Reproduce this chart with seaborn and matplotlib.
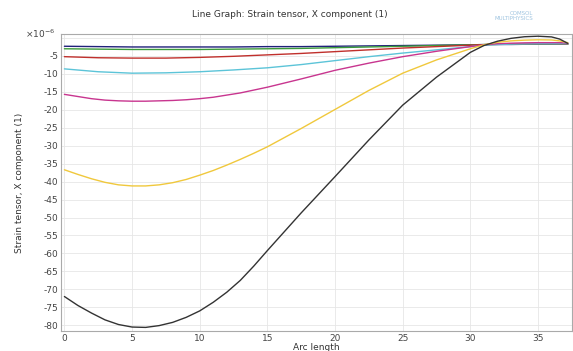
"""Line graph of the strain tensor X component along an arc length."""

import matplotlib.pyplot as plt
import pandas as pd
import seaborn as sns

ARC_COARSE = [0, 2.5, 5, 7.5, 10, 12.5, 15, 17.5, 20, 22.5, 25, 27.5, 30,
              31.5, 33, 35, 36.2, 37.2]
ARC_FINE = [0, 1, 2, 3, 4, 5, 6, 7, 8, 9, 10, 11, 12, 13, 14, 15, 17.5, 20,
            22.5, 25, 27.5, 30, 31, 32, 33, 34, 35, 36, 36.6, 37.2]

# Strain values (units of 1e-6).
BLUE = [-2.3, -2.4, -2.5, -2.5, -2.5, -2.5, -2.4, -2.4, -2.3, -2.2, -2.1,
        -2.0, -1.9, -1.8, -1.8, -1.7, -1.7, -1.7]
GREEN = [-3.0, -3.1, -3.2, -3.2, -3.2, -3.1, -3.0, -2.9, -2.7, -2.5, -2.3,
         -2.1, -1.9, -1.8, -1.7, -1.7, -1.7, -1.7]
RED = [-5.2, -5.5, -5.6, -5.6, -5.4, -5.1, -4.7, -4.3, -3.8, -3.3, -2.8,
       -2.4, -2.0, -1.8, -1.7, -1.6, -1.6, -1.7]
CYAN = [-8.6, -9.4, -9.8, -9.7, -9.4, -8.9, -8.3, -7.4, -6.3, -5.2, -4.2,
        -3.3, -2.4, -1.9, -1.7, -1.6, -1.6, -1.6]
MAGENTA = [-15.7, -16.3, -16.9, -17.3, -17.5, -17.6, -17.6, -17.5, -17.4,
           -17.2, -16.9, -16.5, -15.9, -15.3, -14.5, -13.7, -11.4, -9.0,
           -7.0, -5.2, -3.7, -2.4, -1.9, -1.6, -1.45, -1.35, -1.3, -1.3,
           -1.3, -1.4]
YELLOW = [-36.7, -38.0, -39.2, -40.2, -40.9, -41.2, -41.2, -40.9, -40.3,
          -39.4, -38.2, -36.9, -35.4, -33.8, -32.1, -30.3, -25.2, -19.9,
          -14.6, -9.8, -6.1, -3.0, -1.9, -1.2, -0.8, -0.6, -0.5, -0.55,
          -0.8, -1.3]
BLACK = [-72.0, -74.5, -76.6, -78.5, -79.8, -80.5, -80.6, -80.1, -79.2,
         -77.8, -76.0, -73.6, -70.8, -67.5, -63.5, -59.2, -48.7, -38.6,
         -28.4, -18.7, -10.9, -4.0, -2.1, -0.9, -0.1, 0.35, 0.5, 0.3,
         -0.3, -1.5]

SERIES = [
    ("blue", ARC_COARSE, BLUE),
    ("green", ARC_COARSE, GREEN),
    ("red", ARC_COARSE, RED),
    ("cyan", ARC_COARSE, CYAN),
    ("magenta", ARC_FINE, MAGENTA),
    ("yellow", ARC_FINE, YELLOW),
    ("black", ARC_FINE, BLACK),
]
COLORS = {
    "blue": "#20207a",
    "green": "#3a9a3a",
    "red": "#c0302c",
    "cyan": "#5cc4d8",
    "magenta": "#c8358f",
    "yellow": "#f0c83c",
    "black": "#333333",
}


def _main() -> None:
    rows = []
    for name, xs, values in SERIES:
        for x, y in zip(xs, values):
            rows.append({"arc": x, "strain": y, "series": name})
    df = pd.DataFrame(rows)

    sns.set_style("whitegrid")
    plt.rcParams["font.family"] = ["DejaVu Sans"]
    fig = plt.figure(figsize=(5.73, 3.51), dpi=100)
    ax = fig.add_axes([0.1065, 0.057, 0.8915, 0.846])
    sns.lineplot(data=df, x="arc", y="strain", hue="series", palette=COLORS,
                 linewidth=1.0, legend=False, ax=ax, sort=False)

    ax.set_xlim(-0.25, 37.5)
    ax.set_ylim(-81.6, 1.1)
    ax.set_xticks(range(0, 40, 5))
    yticks = list(range(-80, 5, 5))
    ax.set_yticks(yticks)
    ax.set_yticklabels([str(t) if t != 0 else "" for t in yticks])
    ax.tick_params(labelsize=6.5, colors="#444444", direction="in",
                   length=3, width=0.6, pad=2)
    ax.grid(color="#e6e6e6", linewidth=0.6)
    for spine in ax.spines.values():
        spine.set_color("#aaaaaa")
        spine.set_linewidth(0.8)

    ax.set_xlabel("Arc length", fontsize=6.5, color="#333333", labelpad=0)
    ax.set_ylabel("Strain tensor, X component (1)", fontsize=6.5,
                  color="#333333", labelpad=14)
    ax.text(-0.012, 1.0, "×10$^{-6}$", transform=ax.transAxes,
            ha="right", va="center", fontsize=6.5, color="#444444")
    fig.text(0.505, 0.96, "Line Graph: Strain tensor, X component (1)",
             ha="center", va="center", fontsize=6.5, color="#333333")
    fig.text(0.93, 0.955, "COMSOL\nMULTIPHYSICS", ha="right", va="center",
             fontsize=4, color="#9fc4e0", linespacing=0.9)
    fig.savefig("out.png", dpi=100, facecolor="w")


if __name__ == "__main__":
    _main()
